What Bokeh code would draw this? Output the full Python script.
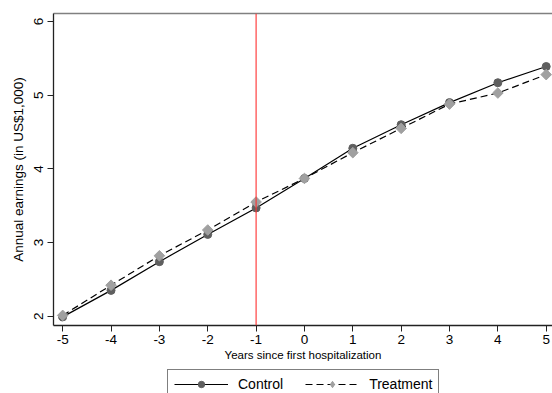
import math
from bokeh.plotting import figure
from bokeh.layouts import column
from bokeh.models import Range1d, Span, Legend, LegendItem, FixedTicker, LinearAxis
from bokeh.embed import file_html
from bokeh.resources import INLINE

years = [-5, -4, -3, -2, -1, 0, 1, 2, 3, 4, 5]
control = [1.99, 2.35, 2.74, 3.11, 3.47, 3.87, 4.28, 4.60, 4.90, 5.17, 5.39]
treatment = [2.01, 2.42, 2.82, 3.17, 3.55, 3.87, 4.22, 4.55, 4.88, 5.03, 5.28]
x_ticks = [-5, -4, -3, -2, -1, 0, 1, 2, 3, 4, 5]
y_ticks = [2, 3, 4, 5, 6]
event_year = -1
series_names = ["Control", "Treatment"]

FONT = "Liberation Sans"

p = figure(width=552, height=368, output_backend="svg", toolbar_location=None,
           x_range=Range1d(-5.19, 5.13), y_range=Range1d(1.873, 6.11))
p.min_border_left = 53
p.min_border_right = 0
p.min_border_top = 13
p.min_border_bottom = 43
p.background_fill_color = "white"
p.border_fill_color = "white"
p.outline_line_color = None
p.grid.visible = False

xax = p.below[0]
yax = p.left[0]

# top border (plot region outline, open on the right)
top = LinearAxis(ticker=FixedTicker(ticks=[]), axis_line_color="#808080", axis_line_width=1.3,
                 major_tick_line_color=None, minor_tick_line_color=None,
                 major_label_text_font_size="0px", major_tick_out=0, major_tick_in=0,
                 minor_tick_out=0, minor_tick_in=0, major_label_standoff=0)
p.add_layout(top, "above")

# axes
for ax in (xax, yax):
    ax.axis_line_color = "#222222"
    ax.axis_line_width = 1.3
    ax.major_tick_line_color = "#222222"
    ax.major_tick_out = 6
    ax.major_tick_in = 0
    ax.minor_tick_out = 0
    ax.minor_tick_in = 0
    ax.major_label_text_font = FONT
    ax.major_label_text_color = "black"
    ax.axis_label_text_font = FONT
    ax.axis_label_text_font_style = "normal"
    ax.axis_label_text_color = "black"

xax.ticker = FixedTicker(ticks=x_ticks)
yax.ticker = FixedTicker(ticks=y_ticks)
xax.major_label_overrides = {t: str(t) for t in x_ticks}
yax.major_label_overrides = {t: str(t) for t in y_ticks}
xax.major_label_text_font_size = "13.5px"
yax.major_label_text_font_size = "13.5px"
yax.major_label_orientation = "vertical"
xax.major_label_standoff = 3
yax.major_label_standoff = 4
xax.axis_label = "Years since first hospitalization"
xax.axis_label_text_font_size = "11.5px"
xax.axis_label_standoff = 2
yax.axis_label = "Annual earnings (in US$1,000)"
yax.axis_label_text_font_size = "13.5px"
yax.axis_label_standoff = 6

# event line
p.add_layout(Span(location=event_year, dimension="height", line_color="#ff3030", line_width=1.1))

ctrl_line = dict(line_color="black", line_width=1.2)
ctrl_mark = dict(marker="circle", size=8, fill_color="#5f5f5f", line_color="#5f5f5f")
trt_line = dict(line_color="black", line_width=1.2, line_dash="7 4")
trt_mark = dict(marker="square", angle=math.pi / 4, size=7.5, fill_color="#a0a0a0", line_color="#a0a0a0")
trt_mark_legend = dict(marker="diamond", size=13, fill_color="#a0a0a0", line_color="#a0a0a0")

p.line(years, control, **ctrl_line)
p.scatter(years, control, **ctrl_mark)
p.line(years, treatment, **trt_line)
p.scatter(years, treatment, **trt_mark)

# legend strip below the chart (its own series are out of its visible range)
q = figure(width=552, height=25, output_backend="svg", toolbar_location=None,
           x_axis_type=None, y_axis_type=None,
           x_range=Range1d(100, 101), y_range=Range1d(100, 101))
q.min_border_left = 0
q.min_border_right = 0
q.min_border_top = 0
q.min_border_bottom = 0
q.outline_line_color = None
q.grid.visible = False
q.background_fill_color = "white"
q.border_fill_color = "white"

lc = q.line(years, control, **ctrl_line)
sc = q.scatter(years, control, **ctrl_mark)
lt = q.line(years, treatment, **trt_line)
st = q.scatter(years, treatment, **trt_mark_legend)

legend = Legend(items=[LegendItem(label=series_names[0], renderers=[lc, sc]),
                       LegendItem(label=series_names[1], renderers=[lt, st])],
                orientation="horizontal", location=(114, -6))
legend.label_text_font = FONT
legend.label_text_font_size = "14px"
legend.label_text_color = "black"
legend.glyph_width = 54
legend.glyph_height = 16
legend.label_height = 16
legend.label_standoff = 10
legend.spacing = 22
legend.padding = 6
legend.margin = 0
legend.border_line_color = "black"
legend.border_line_width = 1
legend.background_fill_color = "white"
legend.background_fill_alpha = 1
q.add_layout(legend, "center")

layout = column(p, q, spacing=0)
open("out.html", "w").write(file_html(layout, INLINE))
